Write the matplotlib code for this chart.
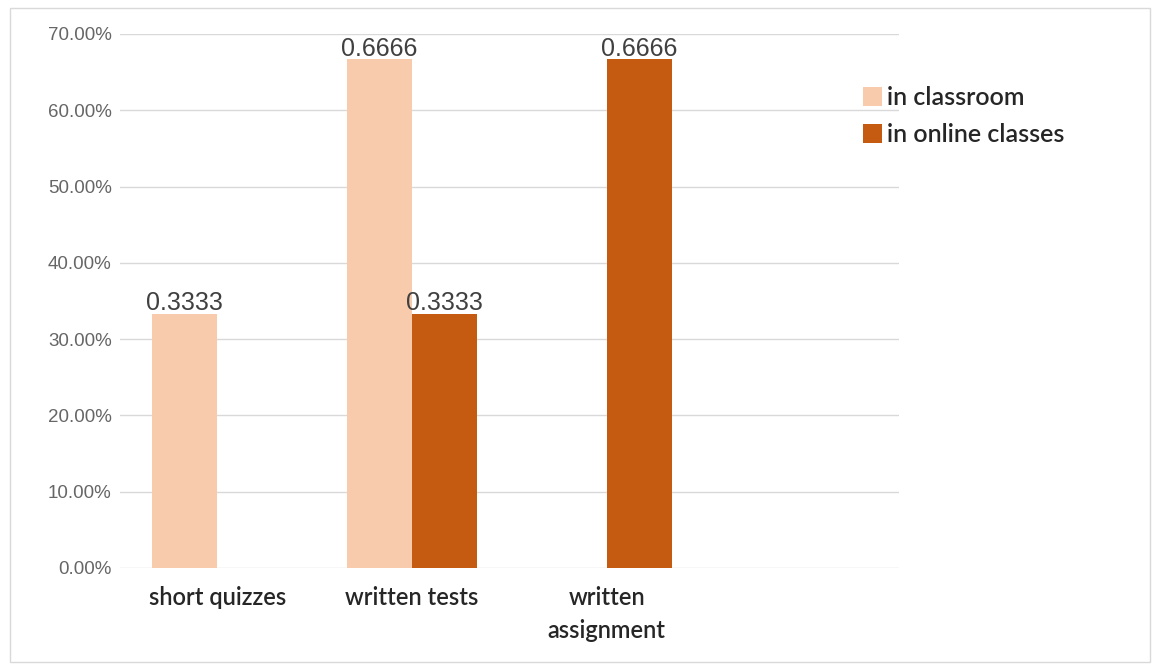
import matplotlib
matplotlib.use("Agg")
import matplotlib.pyplot as plt
import numpy as np

categories = ["short quizzes", "written tests", "written\nassignment", ""]
in_classroom = [0.3333, 0.6666, 0.0, 0.0]
in_online = [0.0, 0.3333, 0.6666, 0.0]
series_names = ["in classroom", "in online classes"]
colors = ["#F8CBAD", "#C55A11"]

fig = plt.figure(figsize=(11.52, 6.64), dpi=100)
ax = fig.add_axes([0.1042, 0.1446, 0.676, 0.8042])

x = np.arange(len(categories))
w = 0.335
bars1 = ax.bar(x - w / 2, in_classroom, w, color=colors[0], label=series_names[0])
bars2 = ax.bar(x + w / 2, in_online, w, color=colors[1], label=series_names[1])

for bars, vals in [(bars1, in_classroom), (bars2, in_online)]:
    for b, v in zip(bars, vals):
        if v > 0:
            ax.text(b.get_x() + b.get_width() / 2, v - 0.002, f"{v:.4f}", ha="center", va="bottom",
                    fontsize=18, color="#404040", family="Liberation Sans")

ax.set_xlim(-0.5, 3.5)
ax.set_ylim(0, 0.7)
ticks = np.arange(0, 0.71, 0.1)
ax.set_yticks(ticks)
ax.set_yticklabels([f"{t*100:.2f}%" for t in ticks],
                   fontsize=13.5, color="#666666", family="Liberation Sans")
ax.set_xticks(x)
ax.set_xticklabels(categories, fontsize=17, color="#262626", family="Lato",
                   fontweight="semibold", linespacing=1.5)
ax.tick_params(axis="both", length=0)
ax.tick_params(axis="x", pad=13)
ax.tick_params(axis="y", pad=6)
ax.grid(axis="y", color="#D9D9D9", linewidth=1)
ax.set_axisbelow(True)
for s in ax.spines.values():
    s.set_visible(False)

leg = fig.legend(loc="upper left", bbox_to_anchor=(0.749, 0.87), frameon=False,
                 borderpad=0, borderaxespad=0,
                 handlelength=0.75, handleheight=0.75, handletextpad=0.2, labelspacing=0.55,
                 prop={"family": "Lato", "size": 18, "weight": "semibold"})
for t in leg.get_texts():
    t.set_color("#262626")

fig.patches.append(plt.Rectangle((0.009, 0.003), 0.989, 0.985, transform=fig.transFigure,
                                 fill=False, edgecolor="#D9D9D9", linewidth=1))

fig.savefig("out.png", dpi=100)
